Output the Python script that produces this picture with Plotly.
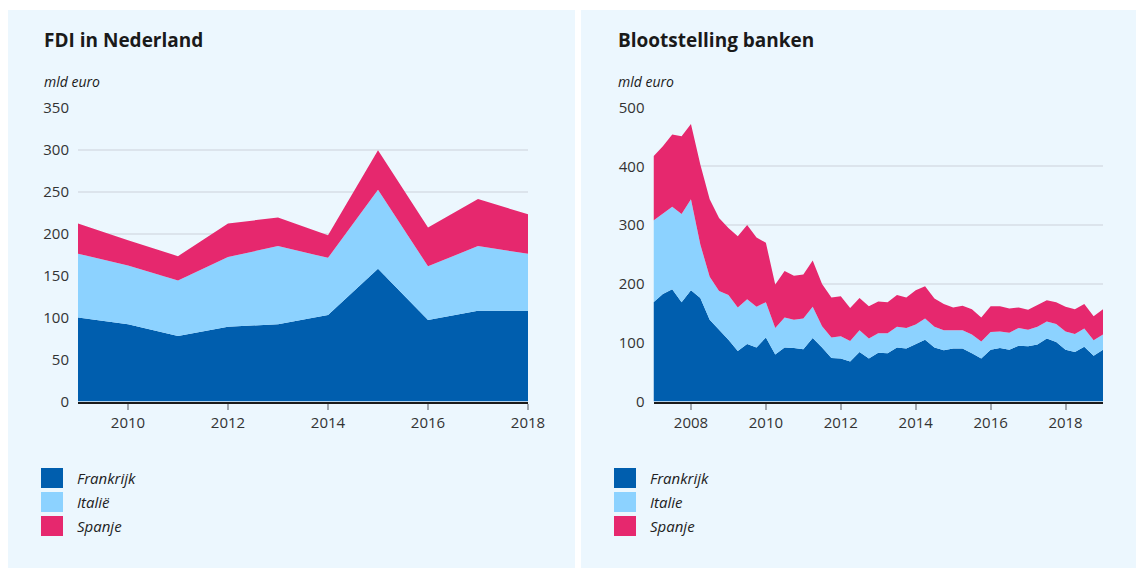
import plotly.graph_objects as go

W, H = 1136, 569

# ---------- data ----------
fdi_years = [2009, 2010, 2011, 2012, 2013, 2014, 2015, 2016, 2017, 2018]
fdi_frankrijk = [100, 92, 78, 89, 92, 103, 158, 97, 108, 108]
fdi_italie = [76, 70, 66, 83, 93, 68, 94, 64, 77, 68]
fdi_spanje = [36, 30, 29, 40, 34, 27, 47, 46, 56, 47]

# quarterly, 2007 Q1 .. 2019 Q1
bank_quarters = [2007 + k / 4 for k in range(49)]
bank_frankrijk = [169, 183, 191, 169, 189, 176, 139, 122, 105, 86, 98, 92, 109,
                  80, 92, 91, 89, 108, 92, 74, 73, 68, 84, 73, 83, 82, 92, 90,
                  98, 105, 92, 87, 90, 90, 82, 73, 88, 91, 88, 95, 94, 97, 107,
                  101, 88, 84, 93, 78, 88]
bank_italie = [139, 136, 140, 150, 155, 91, 73, 66, 76, 74, 76, 69, 60,
               45, 51, 48, 52, 53, 36, 35, 38, 35, 37, 34, 33, 34, 35, 35,
               33, 36, 35, 34, 31, 31, 32, 29, 30, 28, 29, 30, 28, 30, 29,
               31, 31, 31, 31, 26, 26]
bank_spanje = [109, 115, 123, 132, 128, 136, 132, 124, 114, 121, 126, 118, 101,
               74, 79, 75, 75, 79, 72, 68, 68, 56, 55, 55, 54, 53, 54, 52,
               58, 55, 48, 45, 39, 42, 43, 41, 44, 43, 41, 35, 34, 37, 36,
               37, 42, 42, 42, 41, 43]

series_names_left = ["Frankrijk", "Italië", "Spanje"]
series_names_right = ["Frankrijk", "Italie", "Spanje"]
series_colors = ["#005EAE", "#8CD2FF", "#E6286E"]

left_ticks = [2010, 2012, 2014, 2016, 2018]
right_ticks = [2008, 2010, 2012, 2014, 2016, 2018]
left_yticks = [0, 50, 100, 150, 200, 250, 300, 350]
right_yticks = [0, 100, 200, 300, 400, 500]

# ---------- helpers ----------
def fx(px):
    return px / W

def fy(py):
    return 1 - py / H

PANEL = "#ECF7FE"
TEXT = "#1a1a1a"
GRID = "#DCE4EC"
FONT = "Open Sans"

fig = go.Figure()

for name, vals, col in zip(series_names_left, [fdi_frankrijk, fdi_italie, fdi_spanje], series_colors):
    fig.add_trace(go.Scatter(x=fdi_years, y=vals, name=name, mode="lines",
                             line=dict(width=0, color=col), fillcolor=col,
                             stackgroup="left", xaxis="x", yaxis="y",
                             showlegend=False))

for name, vals, col in zip(series_names_right, [bank_frankrijk, bank_italie, bank_spanje], series_colors):
    fig.add_trace(go.Scatter(x=bank_quarters, y=vals, name=name, mode="lines",
                             line=dict(width=0, color=col), fillcolor=col,
                             stackgroup="right", xaxis="x2", yaxis="y2",
                             showlegend=False))

ydom = [fy(401.5), fy(107.5)]

common_x = dict(showgrid=False, zeroline=False, showline=True, linecolor="#1a1a1a",
                linewidth=2, ticks="outside", ticklen=6, tickcolor="#A0A8B0",
                tickwidth=1.5, tickfont=dict(family=FONT, size=15, color="#333"),
                fixedrange=True, automargin=False)
common_y = dict(showgrid=True, gridcolor=GRID, gridwidth=1.5, zeroline=False,
                showline=False, ticks="", tickfont=dict(family=FONT, size=15, color="#333"),
                ticklabelstandoff=8, fixedrange=True, automargin=False)

fig.update_layout(
    width=W, height=H,
    margin=dict(l=0, r=0, t=0, b=0, pad=0, autoexpand=False),
    paper_bgcolor="white",
    plot_bgcolor="rgba(0,0,0,0)",
    showlegend=False,
    xaxis=dict(domain=[fx(78), fx(528)], range=[2009, 2018],
               tickvals=left_ticks, ticktext=[str(t) for t in left_ticks],
               anchor="y", **common_x),
    yaxis=dict(domain=ydom, range=[0, 350], tickvals=left_yticks,
               anchor="x", **common_y),
    xaxis2=dict(domain=[fx(653.5), fx(1103)], range=[2007, 2019],
                tickvals=right_ticks, ticktext=[str(t) for t in right_ticks],
                anchor="y2", **common_x),
    yaxis2=dict(domain=ydom, range=[0, 500], tickvals=right_yticks,
                anchor="x2", **common_y),
)

# panel backgrounds
shapes = [
    dict(type="rect", xref="paper", yref="paper", x0=fx(8), x1=fx(575),
         y0=fy(568), y1=fy(10), fillcolor=PANEL, line=dict(width=0), layer="below"),
    dict(type="rect", xref="paper", yref="paper", x0=fx(581), x1=fx(1136),
         y0=fy(568), y1=fy(10), fillcolor=PANEL, line=dict(width=0), layer="below"),
]

annotations = []
for x0, title in [(42, "FDI in Nederland"), (616, "Blootstelling banken")]:
    annotations.append(dict(xref="paper", yref="paper", x=fx(x0), y=fy(40),
                            text="<b>" + title + "</b>", showarrow=False,
                            xanchor="left", yanchor="middle",
                            font=dict(family=FONT, size=19, color=TEXT)))
    annotations.append(dict(xref="paper", yref="paper", x=fx(x0), y=fy(82),
                            text="<i>mld euro</i>", showarrow=False,
                            xanchor="left", yanchor="middle",
                            font=dict(family=FONT, size=14, color=TEXT)))

# legends
for x0, names in [(41, series_names_left), (614, series_names_right)]:
    for i, (name, col) in enumerate(zip(names, series_colors)):
        yc = 478 + 24 * i
        shapes.append(dict(type="rect", xref="paper", yref="paper",
                           x0=fx(x0), x1=fx(x0 + 22), y0=fy(yc + 10), y1=fy(yc - 10),
                           fillcolor=col, line=dict(width=0)))
        annotations.append(dict(xref="paper", yref="paper", x=fx(x0 + 34), y=fy(yc),
                                text="<i>" + name + "</i>", showarrow=False,
                                xanchor="left", yanchor="middle",
                                font=dict(family=FONT, size=15, color="#222")))

fig.update_layout(shapes=shapes, annotations=annotations)

fig.write_html("out.html", config={"displayModeBar": False},
               post_script="document.body.style.margin='0';")
